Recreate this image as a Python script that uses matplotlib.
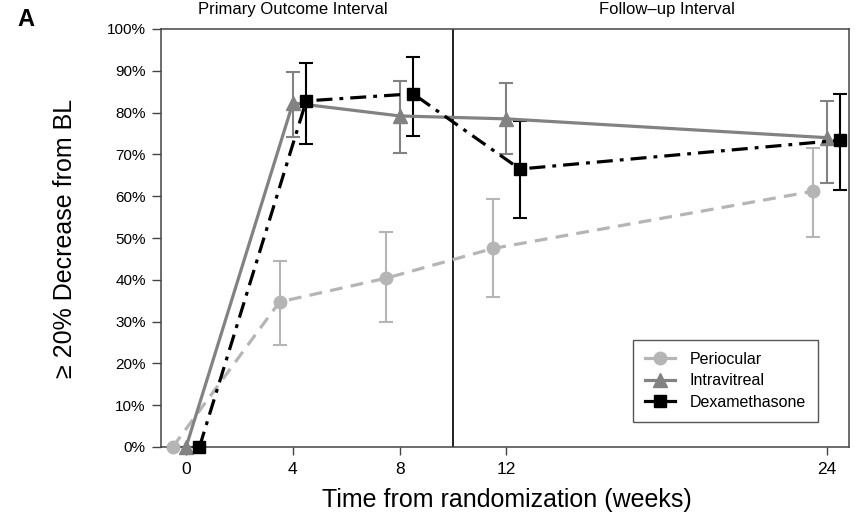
import matplotlib
matplotlib.use("Agg")
import matplotlib.pyplot as plt
from matplotlib.lines import Line2D
from matplotlib.ticker import FuncFormatter
import numpy as np

plt.rcParams['font.family'] = ['Liberation Sans', 'DejaVu Sans']

weeks = [0, 4, 8, 12, 24]
series_names = ["Periocular", "Intravitreal", "Dexamethasone"]

peri = [0, 34.7, 40.4, 47.5, 61.2]
peri_lo = [0, 24.3, 29.9, 36.0, 50.2]
peri_hi = [0, 44.5, 51.4, 59.3, 71.5]

intra = [0, 82.3, 79.2, 78.5, 74.0]
intra_lo = [0, 74.2, 70.3, 70.0, 63.2]
intra_hi = [0, 89.7, 87.6, 87.1, 82.8]

dex = [0, 82.8, 84.5, 66.5, 73.4]
dex_lo = [0, 72.5, 74.4, 54.8, 61.5]
dex_hi = [0, 91.9, 93.3, 78.0, 84.4]

x_ticks = [0, 4, 8, 12, 24]
y_ticks = [0, 10, 20, 30, 40, 50, 60, 70, 80, 90, 100]
interval_labels = ["Primary Outcome Interval", "Follow\u2013up Interval"]

fig = plt.figure(figsize=(8.6, 5.17), dpi=100)
ax = fig.add_axes([161/860, 1-447/517, 688/860, 418/517])

styles = [
    dict(color='#b5b5b5', ls=(0, (4, 2.6)), marker='o', ms=9, off=-0.5),
    dict(color='#828282', ls='-', marker='^', ms=10, off=0.0),
    dict(color='#000000', ls=(0, (5, 2.2, 1.2, 2.2)), marker='s', ms=8, off=0.5),
]
data = [(peri, peri_lo, peri_hi), (intra, intra_lo, intra_hi), (dex, dex_lo, dex_hi)]

handles = []
for name, (v, lo, hi), st in zip(series_names, data, styles):
    xs = np.array(weeks, dtype=float) + st['off']
    v = np.array(v); lo = np.array(lo); hi = np.array(hi)
    yerr = np.vstack([v - lo, hi - v])
    ax.errorbar(xs, v, yerr=yerr, fmt='none', ecolor=st['color'],
                elinewidth=1.5, capsize=4.7, capthick=1.5, clip_on=False, zorder=2)
    ax.plot(xs, v, color=st['color'], ls=st['ls'], lw=2.3, marker=st['marker'],
            ms=st['ms'], mec=st['color'], mfc=st['color'], clip_on=False, zorder=3)
    handles.append(Line2D([0], [0], color=st['color'], ls='-', lw=2.3,
                          marker=st['marker'], ms=st['ms'], label=name))

ax.axvline(10, color='#111111', lw=1.3, zorder=1)

ax.set_xlim(-0.94, 24.83)
ax.set_ylim(0, 100)
ax.set_xticks(x_ticks)
ax.set_xticklabels([str(t) for t in x_ticks])
ax.set_yticks(y_ticks)
ax.yaxis.set_major_formatter(FuncFormatter(lambda v, p: f"{int(v)}%"))
ax.tick_params(axis='y', labelsize=11, length=6.5, width=1, color='#444444', pad=4.5)
ax.tick_params(axis='x', labelsize=12.5, length=6, width=1, color='#444444', pad=5)
for s in ax.spines.values():
    s.set_color('#444444')
    s.set_linewidth(1.1)

ax.set_xlabel("Time from randomization (weeks)", fontsize=18)
ax.xaxis.set_label_coords(0.503, -0.098)
ax.set_ylabel("\u2265 20% Decrease from BL", fontsize=18)
ax.yaxis.set_label_coords(-0.122, 0.5)

ax.text(4, 1.036, interval_labels[0], transform=ax.get_xaxis_transform(),
        ha='center', va='baseline', fontsize=12)
ax.text(18, 1.036, interval_labels[1], transform=ax.get_xaxis_transform(),
        ha='center', va='baseline', fontsize=12)

fig.text(26/860, 1-20/517, "A", fontsize=17, fontweight='bold', ha='center', va='center')

leg = ax.legend(handles=handles, loc='lower right', bbox_to_anchor=(0.955, 0.06),
                borderaxespad=0, fontsize=11.5, frameon=True, fancybox=False,
                framealpha=1, edgecolor='#555555', handlelength=1.9, borderpad=0.75,
                labelspacing=0.42, handletextpad=0.9)
leg.get_frame().set_linewidth(1.0)

fig.savefig("out.png", dpi=100)
